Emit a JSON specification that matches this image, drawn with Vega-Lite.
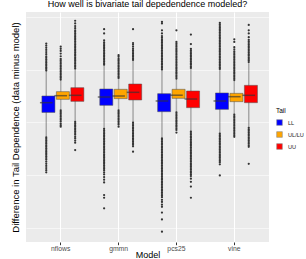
{
"$schema":"https://vega.github.io/schema/vega-lite/v6.json",
"autosize":{"type":"none"},
"padding":{"left":26,"top":12,"right":37,"bottom":17},
"width":243,"height":230,
"background":"white",
"title":{"text":"How well is bivariate tail depedendence modeled?","fontSize":9,"fontWeight":"normal","color":"black","anchor":"middle","frame":"group","offset":3,"font":"Liberation Sans"},
"datasets":{
"box":[
{"m":"nflows","t":"LL","lo":-0.077,"q1":-0.031,"med":-0.0126,"q3":0.0,"hi":0.046},
{"m":"nflows","t":"UL/LU","lo":-0.026,"q1":-0.0063,"med":0.0006,"q3":0.0082,"hi":0.030},
{"m":"nflows","t":"UU","lo":-0.048,"q1":-0.0101,"med":0.0013,"q3":0.0157,"hi":0.051},
{"m":"gmmn","t":"LL","lo":-0.061,"q1":-0.0176,"med":-0.0019,"q3":0.0132,"hi":0.058},
{"m":"gmmn","t":"UL/LU","lo":-0.026,"q1":-0.005,"med":0.0,"q3":0.0126,"hi":0.033},
{"m":"gmmn","t":"UU","lo":-0.049,"q1":-0.0075,"med":0.0069,"q3":0.0226,"hi":0.067},
{"m":"pcs25","t":"LL","lo":-0.079,"q1":-0.0296,"med":-0.0094,"q3":0.0044,"hi":0.049},
{"m":"pcs25","t":"UL/LU","lo":-0.030,"q1":-0.0044,"med":0.0015,"q3":0.0126,"hi":0.032},
{"m":"pcs25","t":"UU","lo":-0.066,"q1":-0.022,"med":-0.0057,"q3":0.0094,"hi":0.052},
{"m":"vine","t":"LL","lo":-0.070,"q1":-0.0252,"med":-0.0094,"q3":0.0057,"hi":0.050},
{"m":"vine","t":"UL/LU","lo":-0.034,"q1":-0.0107,"med":-0.0013,"q3":0.005,"hi":0.029},
{"m":"vine","t":"UU","lo":-0.059,"q1":-0.0126,"med":0.0013,"q3":0.0201,"hi":0.062}
],
"o":[
{"m":"nflows","t":"LL","v":0.048},{"m":"nflows","t":"LL","v":0.051},{"m":"nflows","t":"LL","v":0.054},{"m":"nflows","t":"LL","v":0.057},{"m":"nflows","t":"LL","v":0.060},{"m":"nflows","t":"LL","v":0.063},{"m":"nflows","t":"LL","v":0.066},{"m":"nflows","t":"LL","v":0.069},{"m":"nflows","t":"LL","v":0.072},{"m":"nflows","t":"LL","v":0.075},{"m":"nflows","t":"LL","v":0.079},{"m":"nflows","t":"LL","v":0.083},{"m":"nflows","t":"LL","v":0.087},{"m":"nflows","t":"LL","v":0.091},{"m":"nflows","t":"LL","v":0.095},{"m":"nflows","t":"LL","v":0.099},
{"m":"nflows","t":"LL","v":-0.078},{"m":"nflows","t":"LL","v":-0.081},{"m":"nflows","t":"LL","v":-0.084},{"m":"nflows","t":"LL","v":-0.087},{"m":"nflows","t":"LL","v":-0.090},{"m":"nflows","t":"LL","v":-0.093},{"m":"nflows","t":"LL","v":-0.096},{"m":"nflows","t":"LL","v":-0.099},{"m":"nflows","t":"LL","v":-0.102},{"m":"nflows","t":"LL","v":-0.105},{"m":"nflows","t":"LL","v":-0.108},{"m":"nflows","t":"LL","v":-0.111},{"m":"nflows","t":"LL","v":-0.114},{"m":"nflows","t":"LL","v":-0.117},{"m":"nflows","t":"LL","v":-0.120},{"m":"nflows","t":"LL","v":-0.124},{"m":"nflows","t":"LL","v":-0.128},{"m":"nflows","t":"LL","v":-0.132},{"m":"nflows","t":"LL","v":-0.136},{"m":"nflows","t":"LL","v":-0.140},{"m":"nflows","t":"LL","v":-0.144},
{"m":"nflows","t":"UL/LU","v":0.031},{"m":"nflows","t":"UL/LU","v":0.034},{"m":"nflows","t":"UL/LU","v":0.037},{"m":"nflows","t":"UL/LU","v":0.040},{"m":"nflows","t":"UL/LU","v":0.043},{"m":"nflows","t":"UL/LU","v":0.046},{"m":"nflows","t":"UL/LU","v":0.049},{"m":"nflows","t":"UL/LU","v":0.052},{"m":"nflows","t":"UL/LU","v":0.055},{"m":"nflows","t":"UL/LU","v":0.058},{"m":"nflows","t":"UL/LU","v":0.061},{"m":"nflows","t":"UL/LU","v":0.064},{"m":"nflows","t":"UL/LU","v":0.067},{"m":"nflows","t":"UL/LU","v":0.070},{"m":"nflows","t":"UL/LU","v":0.075},{"m":"nflows","t":"UL/LU","v":0.080},{"m":"nflows","t":"UL/LU","v":0.085},{"m":"nflows","t":"UL/LU","v":0.089},{"m":"nflows","t":"UL/LU","v":0.093},
{"m":"nflows","t":"UL/LU","v":-0.027},{"m":"nflows","t":"UL/LU","v":-0.030},{"m":"nflows","t":"UL/LU","v":-0.033},{"m":"nflows","t":"UL/LU","v":-0.036},{"m":"nflows","t":"UL/LU","v":-0.039},{"m":"nflows","t":"UL/LU","v":-0.042},{"m":"nflows","t":"UL/LU","v":-0.045},{"m":"nflows","t":"UL/LU","v":-0.048},{"m":"nflows","t":"UL/LU","v":-0.052},{"m":"nflows","t":"UL/LU","v":-0.055},{"m":"nflows","t":"UL/LU","v":-0.058},
{"m":"nflows","t":"UU","v":0.052},{"m":"nflows","t":"UU","v":0.055},{"m":"nflows","t":"UU","v":0.058},{"m":"nflows","t":"UU","v":0.061},{"m":"nflows","t":"UU","v":0.064},{"m":"nflows","t":"UU","v":0.067},{"m":"nflows","t":"UU","v":0.070},{"m":"nflows","t":"UU","v":0.073},{"m":"nflows","t":"UU","v":0.076},{"m":"nflows","t":"UU","v":0.079},{"m":"nflows","t":"UU","v":0.082},{"m":"nflows","t":"UU","v":0.085},{"m":"nflows","t":"UU","v":0.088},{"m":"nflows","t":"UU","v":0.091},{"m":"nflows","t":"UU","v":0.094},{"m":"nflows","t":"UU","v":0.097},{"m":"nflows","t":"UU","v":0.100},{"m":"nflows","t":"UU","v":0.103},{"m":"nflows","t":"UU","v":0.106},{"m":"nflows","t":"UU","v":0.109},{"m":"nflows","t":"UU","v":0.112},{"m":"nflows","t":"UU","v":0.115},{"m":"nflows","t":"UU","v":0.118},{"m":"nflows","t":"UU","v":0.121},{"m":"nflows","t":"UU","v":0.124},{"m":"nflows","t":"UU","v":0.128},{"m":"nflows","t":"UU","v":0.132},{"m":"nflows","t":"UU","v":0.137},{"m":"nflows","t":"UU","v":0.142},
{"m":"nflows","t":"UU","v":-0.049},{"m":"nflows","t":"UU","v":-0.052},{"m":"nflows","t":"UU","v":-0.055},{"m":"nflows","t":"UU","v":-0.058},{"m":"nflows","t":"UU","v":-0.061},{"m":"nflows","t":"UU","v":-0.064},{"m":"nflows","t":"UU","v":-0.067},{"m":"nflows","t":"UU","v":-0.070},{"m":"nflows","t":"UU","v":-0.073},{"m":"nflows","t":"UU","v":-0.077},{"m":"nflows","t":"UU","v":-0.080},{"m":"nflows","t":"UU","v":-0.084},{"m":"nflows","t":"UU","v":-0.088},{"m":"nflows","t":"UU","v":-0.102},
{"m":"gmmn","t":"LL","v":0.059},{"m":"gmmn","t":"LL","v":0.062},{"m":"gmmn","t":"LL","v":0.065},{"m":"gmmn","t":"LL","v":0.068},{"m":"gmmn","t":"LL","v":0.071},{"m":"gmmn","t":"LL","v":0.074},{"m":"gmmn","t":"LL","v":0.077},{"m":"gmmn","t":"LL","v":0.080},{"m":"gmmn","t":"LL","v":0.083},{"m":"gmmn","t":"LL","v":0.086},{"m":"gmmn","t":"LL","v":0.089},{"m":"gmmn","t":"LL","v":0.092},{"m":"gmmn","t":"LL","v":0.095},{"m":"gmmn","t":"LL","v":0.098},{"m":"gmmn","t":"LL","v":0.101},{"m":"gmmn","t":"LL","v":0.105},{"m":"gmmn","t":"LL","v":0.118},{"m":"gmmn","t":"LL","v":0.126},
{"m":"gmmn","t":"LL","v":-0.062},{"m":"gmmn","t":"LL","v":-0.065},{"m":"gmmn","t":"LL","v":-0.068},{"m":"gmmn","t":"LL","v":-0.071},{"m":"gmmn","t":"LL","v":-0.074},{"m":"gmmn","t":"LL","v":-0.077},{"m":"gmmn","t":"LL","v":-0.080},{"m":"gmmn","t":"LL","v":-0.083},{"m":"gmmn","t":"LL","v":-0.086},{"m":"gmmn","t":"LL","v":-0.089},{"m":"gmmn","t":"LL","v":-0.092},{"m":"gmmn","t":"LL","v":-0.095},{"m":"gmmn","t":"LL","v":-0.098},{"m":"gmmn","t":"LL","v":-0.101},{"m":"gmmn","t":"LL","v":-0.104},{"m":"gmmn","t":"LL","v":-0.107},{"m":"gmmn","t":"LL","v":-0.110},{"m":"gmmn","t":"LL","v":-0.113},{"m":"gmmn","t":"LL","v":-0.116},{"m":"gmmn","t":"LL","v":-0.119},{"m":"gmmn","t":"LL","v":-0.122},{"m":"gmmn","t":"LL","v":-0.125},{"m":"gmmn","t":"LL","v":-0.128},{"m":"gmmn","t":"LL","v":-0.131},{"m":"gmmn","t":"LL","v":-0.134},{"m":"gmmn","t":"LL","v":-0.137},{"m":"gmmn","t":"LL","v":-0.140},{"m":"gmmn","t":"LL","v":-0.144},{"m":"gmmn","t":"LL","v":-0.148},{"m":"gmmn","t":"LL","v":-0.153},{"m":"gmmn","t":"LL","v":-0.158},{"m":"gmmn","t":"LL","v":-0.163},{"m":"gmmn","t":"LL","v":-0.187},{"m":"gmmn","t":"LL","v":-0.192},{"m":"gmmn","t":"LL","v":-0.212},
{"m":"gmmn","t":"UL/LU","v":0.034},{"m":"gmmn","t":"UL/LU","v":0.037},{"m":"gmmn","t":"UL/LU","v":0.040},{"m":"gmmn","t":"UL/LU","v":0.043},{"m":"gmmn","t":"UL/LU","v":0.046},{"m":"gmmn","t":"UL/LU","v":0.049},{"m":"gmmn","t":"UL/LU","v":0.052},{"m":"gmmn","t":"UL/LU","v":0.055},{"m":"gmmn","t":"UL/LU","v":0.058},{"m":"gmmn","t":"UL/LU","v":0.061},{"m":"gmmn","t":"UL/LU","v":0.064},{"m":"gmmn","t":"UL/LU","v":0.067},{"m":"gmmn","t":"UL/LU","v":0.070},{"m":"gmmn","t":"UL/LU","v":0.074},{"m":"gmmn","t":"UL/LU","v":0.077},
{"m":"gmmn","t":"UL/LU","v":-0.027},{"m":"gmmn","t":"UL/LU","v":-0.030},{"m":"gmmn","t":"UL/LU","v":-0.033},{"m":"gmmn","t":"UL/LU","v":-0.036},{"m":"gmmn","t":"UL/LU","v":-0.039},{"m":"gmmn","t":"UL/LU","v":-0.042},{"m":"gmmn","t":"UL/LU","v":-0.045},{"m":"gmmn","t":"UL/LU","v":-0.048},{"m":"gmmn","t":"UL/LU","v":-0.051},{"m":"gmmn","t":"UL/LU","v":-0.054},{"m":"gmmn","t":"UL/LU","v":-0.058},
{"m":"gmmn","t":"UU","v":0.068},{"m":"gmmn","t":"UU","v":0.071},{"m":"gmmn","t":"UU","v":0.074},{"m":"gmmn","t":"UU","v":0.077},{"m":"gmmn","t":"UU","v":0.080},{"m":"gmmn","t":"UU","v":0.083},{"m":"gmmn","t":"UU","v":0.086},{"m":"gmmn","t":"UU","v":0.089},{"m":"gmmn","t":"UU","v":0.093},{"m":"gmmn","t":"UU","v":0.097},{"m":"gmmn","t":"UU","v":0.100},{"m":"gmmn","t":"UU","v":0.126},
{"m":"gmmn","t":"UU","v":-0.050},{"m":"gmmn","t":"UU","v":-0.053},{"m":"gmmn","t":"UU","v":-0.056},{"m":"gmmn","t":"UU","v":-0.059},{"m":"gmmn","t":"UU","v":-0.062},{"m":"gmmn","t":"UU","v":-0.065},{"m":"gmmn","t":"UU","v":-0.068},{"m":"gmmn","t":"UU","v":-0.071},{"m":"gmmn","t":"UU","v":-0.074},{"m":"gmmn","t":"UU","v":-0.077},{"m":"gmmn","t":"UU","v":-0.080},{"m":"gmmn","t":"UU","v":-0.083},{"m":"gmmn","t":"UU","v":-0.086},{"m":"gmmn","t":"UU","v":-0.089},{"m":"gmmn","t":"UU","v":-0.092},{"m":"gmmn","t":"UU","v":-0.095},{"m":"gmmn","t":"UU","v":-0.105},
{"m":"pcs25","t":"LL","v":0.050},{"m":"pcs25","t":"LL","v":0.053},{"m":"pcs25","t":"LL","v":0.056},{"m":"pcs25","t":"LL","v":0.059},{"m":"pcs25","t":"LL","v":0.062},{"m":"pcs25","t":"LL","v":0.065},{"m":"pcs25","t":"LL","v":0.068},{"m":"pcs25","t":"LL","v":0.071},{"m":"pcs25","t":"LL","v":0.074},{"m":"pcs25","t":"LL","v":0.077},{"m":"pcs25","t":"LL","v":0.080},{"m":"pcs25","t":"LL","v":0.083},{"m":"pcs25","t":"LL","v":0.086},{"m":"pcs25","t":"LL","v":0.089},{"m":"pcs25","t":"LL","v":0.092},{"m":"pcs25","t":"LL","v":0.095},{"m":"pcs25","t":"LL","v":0.098},{"m":"pcs25","t":"LL","v":0.101},{"m":"pcs25","t":"LL","v":0.104},{"m":"pcs25","t":"LL","v":0.107},{"m":"pcs25","t":"LL","v":0.110},{"m":"pcs25","t":"LL","v":0.113},{"m":"pcs25","t":"LL","v":0.118},{"m":"pcs25","t":"LL","v":0.124},{"m":"pcs25","t":"LL","v":0.137},{"m":"pcs25","t":"LL","v":0.140},
{"m":"pcs25","t":"LL","v":-0.080},{"m":"pcs25","t":"LL","v":-0.083},{"m":"pcs25","t":"LL","v":-0.086},{"m":"pcs25","t":"LL","v":-0.089},{"m":"pcs25","t":"LL","v":-0.092},{"m":"pcs25","t":"LL","v":-0.095},{"m":"pcs25","t":"LL","v":-0.098},{"m":"pcs25","t":"LL","v":-0.101},{"m":"pcs25","t":"LL","v":-0.104},{"m":"pcs25","t":"LL","v":-0.107},{"m":"pcs25","t":"LL","v":-0.110},{"m":"pcs25","t":"LL","v":-0.113},{"m":"pcs25","t":"LL","v":-0.116},{"m":"pcs25","t":"LL","v":-0.119},{"m":"pcs25","t":"LL","v":-0.122},{"m":"pcs25","t":"LL","v":-0.125},{"m":"pcs25","t":"LL","v":-0.128},{"m":"pcs25","t":"LL","v":-0.131},{"m":"pcs25","t":"LL","v":-0.134},{"m":"pcs25","t":"LL","v":-0.137},{"m":"pcs25","t":"LL","v":-0.140},{"m":"pcs25","t":"LL","v":-0.143},{"m":"pcs25","t":"LL","v":-0.146},{"m":"pcs25","t":"LL","v":-0.149},{"m":"pcs25","t":"LL","v":-0.152},{"m":"pcs25","t":"LL","v":-0.155},{"m":"pcs25","t":"LL","v":-0.158},{"m":"pcs25","t":"LL","v":-0.161},{"m":"pcs25","t":"LL","v":-0.164},{"m":"pcs25","t":"LL","v":-0.167},{"m":"pcs25","t":"LL","v":-0.170},{"m":"pcs25","t":"LL","v":-0.173},{"m":"pcs25","t":"LL","v":-0.176},{"m":"pcs25","t":"LL","v":-0.179},{"m":"pcs25","t":"LL","v":-0.182},{"m":"pcs25","t":"LL","v":-0.185},{"m":"pcs25","t":"LL","v":-0.188},{"m":"pcs25","t":"LL","v":-0.191},{"m":"pcs25","t":"LL","v":-0.196},{"m":"pcs25","t":"LL","v":-0.200},{"m":"pcs25","t":"LL","v":-0.205},{"m":"pcs25","t":"LL","v":-0.209},{"m":"pcs25","t":"LL","v":-0.220},{"m":"pcs25","t":"LL","v":-0.233},{"m":"pcs25","t":"LL","v":-0.256},
{"m":"pcs25","t":"UL/LU","v":0.033},{"m":"pcs25","t":"UL/LU","v":0.036},{"m":"pcs25","t":"UL/LU","v":0.039},{"m":"pcs25","t":"UL/LU","v":0.042},{"m":"pcs25","t":"UL/LU","v":0.045},{"m":"pcs25","t":"UL/LU","v":0.048},{"m":"pcs25","t":"UL/LU","v":0.051},{"m":"pcs25","t":"UL/LU","v":0.054},{"m":"pcs25","t":"UL/LU","v":0.057},{"m":"pcs25","t":"UL/LU","v":0.060},{"m":"pcs25","t":"UL/LU","v":0.063},{"m":"pcs25","t":"UL/LU","v":0.066},{"m":"pcs25","t":"UL/LU","v":0.069},{"m":"pcs25","t":"UL/LU","v":0.072},{"m":"pcs25","t":"UL/LU","v":0.075},{"m":"pcs25","t":"UL/LU","v":0.078},{"m":"pcs25","t":"UL/LU","v":0.081},{"m":"pcs25","t":"UL/LU","v":0.084},{"m":"pcs25","t":"UL/LU","v":0.087},{"m":"pcs25","t":"UL/LU","v":0.090},{"m":"pcs25","t":"UL/LU","v":0.093},{"m":"pcs25","t":"UL/LU","v":0.096},{"m":"pcs25","t":"UL/LU","v":0.099},{"m":"pcs25","t":"UL/LU","v":0.102},{"m":"pcs25","t":"UL/LU","v":0.124},
{"m":"pcs25","t":"UL/LU","v":-0.031},{"m":"pcs25","t":"UL/LU","v":-0.034},{"m":"pcs25","t":"UL/LU","v":-0.037},{"m":"pcs25","t":"UL/LU","v":-0.040},{"m":"pcs25","t":"UL/LU","v":-0.043},{"m":"pcs25","t":"UL/LU","v":-0.046},{"m":"pcs25","t":"UL/LU","v":-0.049},{"m":"pcs25","t":"UL/LU","v":-0.052},{"m":"pcs25","t":"UL/LU","v":-0.055},{"m":"pcs25","t":"UL/LU","v":-0.058},{"m":"pcs25","t":"UL/LU","v":-0.061},{"m":"pcs25","t":"UL/LU","v":-0.064},{"m":"pcs25","t":"UL/LU","v":-0.069},
{"m":"pcs25","t":"UU","v":0.053},{"m":"pcs25","t":"UU","v":0.056},{"m":"pcs25","t":"UU","v":0.059},{"m":"pcs25","t":"UU","v":0.062},{"m":"pcs25","t":"UU","v":0.065},{"m":"pcs25","t":"UU","v":0.068},{"m":"pcs25","t":"UU","v":0.071},{"m":"pcs25","t":"UU","v":0.074},{"m":"pcs25","t":"UU","v":0.077},{"m":"pcs25","t":"UU","v":0.080},{"m":"pcs25","t":"UU","v":0.083},{"m":"pcs25","t":"UU","v":0.086},{"m":"pcs25","t":"UU","v":0.089},{"m":"pcs25","t":"UU","v":0.098},{"m":"pcs25","t":"UU","v":0.116},
{"m":"pcs25","t":"UU","v":-0.067},{"m":"pcs25","t":"UU","v":-0.070},{"m":"pcs25","t":"UU","v":-0.073},{"m":"pcs25","t":"UU","v":-0.076},{"m":"pcs25","t":"UU","v":-0.079},{"m":"pcs25","t":"UU","v":-0.082},{"m":"pcs25","t":"UU","v":-0.085},{"m":"pcs25","t":"UU","v":-0.088},{"m":"pcs25","t":"UU","v":-0.091},{"m":"pcs25","t":"UU","v":-0.094},{"m":"pcs25","t":"UU","v":-0.097},{"m":"pcs25","t":"UU","v":-0.100},{"m":"pcs25","t":"UU","v":-0.103},{"m":"pcs25","t":"UU","v":-0.106},{"m":"pcs25","t":"UU","v":-0.109},{"m":"pcs25","t":"UU","v":-0.112},{"m":"pcs25","t":"UU","v":-0.115},{"m":"pcs25","t":"UU","v":-0.118},{"m":"pcs25","t":"UU","v":-0.121},{"m":"pcs25","t":"UU","v":-0.124},{"m":"pcs25","t":"UU","v":-0.127},{"m":"pcs25","t":"UU","v":-0.130},{"m":"pcs25","t":"UU","v":-0.133},{"m":"pcs25","t":"UU","v":-0.136},{"m":"pcs25","t":"UU","v":-0.139},{"m":"pcs25","t":"UU","v":-0.142},{"m":"pcs25","t":"UU","v":-0.145},{"m":"pcs25","t":"UU","v":-0.148},{"m":"pcs25","t":"UU","v":-0.151},{"m":"pcs25","t":"UU","v":-0.156},{"m":"pcs25","t":"UU","v":-0.162},{"m":"pcs25","t":"UU","v":-0.171},{"m":"pcs25","t":"UU","v":-0.192},
{"m":"vine","t":"LL","v":0.051},{"m":"vine","t":"LL","v":0.054},{"m":"vine","t":"LL","v":0.057},{"m":"vine","t":"LL","v":0.060},{"m":"vine","t":"LL","v":0.063},{"m":"vine","t":"LL","v":0.066},{"m":"vine","t":"LL","v":0.069},{"m":"vine","t":"LL","v":0.072},{"m":"vine","t":"LL","v":0.075},{"m":"vine","t":"LL","v":0.078},{"m":"vine","t":"LL","v":0.081},{"m":"vine","t":"LL","v":0.084},{"m":"vine","t":"LL","v":0.087},{"m":"vine","t":"LL","v":0.090},{"m":"vine","t":"LL","v":0.093},{"m":"vine","t":"LL","v":0.096},{"m":"vine","t":"LL","v":0.099},{"m":"vine","t":"LL","v":0.102},{"m":"vine","t":"LL","v":0.105},{"m":"vine","t":"LL","v":0.108},{"m":"vine","t":"LL","v":0.111},{"m":"vine","t":"LL","v":0.114},{"m":"vine","t":"LL","v":0.117},{"m":"vine","t":"LL","v":0.120},{"m":"vine","t":"LL","v":0.123},{"m":"vine","t":"LL","v":0.126},{"m":"vine","t":"LL","v":0.129},{"m":"vine","t":"LL","v":0.132},{"m":"vine","t":"LL","v":0.135},{"m":"vine","t":"LL","v":0.138},
{"m":"vine","t":"LL","v":-0.071},{"m":"vine","t":"LL","v":-0.074},{"m":"vine","t":"LL","v":-0.077},{"m":"vine","t":"LL","v":-0.080},{"m":"vine","t":"LL","v":-0.083},{"m":"vine","t":"LL","v":-0.086},{"m":"vine","t":"LL","v":-0.089},{"m":"vine","t":"LL","v":-0.092},{"m":"vine","t":"LL","v":-0.095},{"m":"vine","t":"LL","v":-0.098},{"m":"vine","t":"LL","v":-0.101},{"m":"vine","t":"LL","v":-0.104},{"m":"vine","t":"LL","v":-0.107},{"m":"vine","t":"LL","v":-0.110},{"m":"vine","t":"LL","v":-0.113},{"m":"vine","t":"LL","v":-0.116},{"m":"vine","t":"LL","v":-0.119},{"m":"vine","t":"LL","v":-0.122},{"m":"vine","t":"LL","v":-0.125},{"m":"vine","t":"LL","v":-0.129},{"m":"vine","t":"LL","v":-0.150},
{"m":"vine","t":"UL/LU","v":0.030},{"m":"vine","t":"UL/LU","v":0.033},{"m":"vine","t":"UL/LU","v":0.036},{"m":"vine","t":"UL/LU","v":0.039},{"m":"vine","t":"UL/LU","v":0.042},{"m":"vine","t":"UL/LU","v":0.045},{"m":"vine","t":"UL/LU","v":0.048},{"m":"vine","t":"UL/LU","v":0.051},{"m":"vine","t":"UL/LU","v":0.054},{"m":"vine","t":"UL/LU","v":0.057},{"m":"vine","t":"UL/LU","v":0.060},{"m":"vine","t":"UL/LU","v":0.063},{"m":"vine","t":"UL/LU","v":0.066},{"m":"vine","t":"UL/LU","v":0.069},{"m":"vine","t":"UL/LU","v":0.072},{"m":"vine","t":"UL/LU","v":0.075},{"m":"vine","t":"UL/LU","v":0.078},{"m":"vine","t":"UL/LU","v":0.081},{"m":"vine","t":"UL/LU","v":0.084},{"m":"vine","t":"UL/LU","v":0.088},{"m":"vine","t":"UL/LU","v":0.092},{"m":"vine","t":"UL/LU","v":0.102},{"m":"vine","t":"UL/LU","v":0.107},
{"m":"vine","t":"UL/LU","v":-0.035},{"m":"vine","t":"UL/LU","v":-0.038},{"m":"vine","t":"UL/LU","v":-0.041},{"m":"vine","t":"UL/LU","v":-0.044},{"m":"vine","t":"UL/LU","v":-0.047},{"m":"vine","t":"UL/LU","v":-0.050},{"m":"vine","t":"UL/LU","v":-0.053},{"m":"vine","t":"UL/LU","v":-0.056},{"m":"vine","t":"UL/LU","v":-0.059},{"m":"vine","t":"UL/LU","v":-0.062},{"m":"vine","t":"UL/LU","v":-0.065},{"m":"vine","t":"UL/LU","v":-0.068},{"m":"vine","t":"UL/LU","v":-0.071},{"m":"vine","t":"UL/LU","v":-0.074},{"m":"vine","t":"UL/LU","v":-0.077},
{"m":"vine","t":"UU","v":0.064},{"m":"vine","t":"UU","v":0.067},{"m":"vine","t":"UU","v":0.070},{"m":"vine","t":"UU","v":0.073},{"m":"vine","t":"UU","v":0.076},{"m":"vine","t":"UU","v":0.079},{"m":"vine","t":"UU","v":0.082},{"m":"vine","t":"UU","v":0.085},{"m":"vine","t":"UU","v":0.088},{"m":"vine","t":"UU","v":0.091},{"m":"vine","t":"UU","v":0.094},{"m":"vine","t":"UU","v":0.097},{"m":"vine","t":"UU","v":0.100},{"m":"vine","t":"UU","v":0.103},{"m":"vine","t":"UU","v":0.106},{"m":"vine","t":"UU","v":0.111},{"m":"vine","t":"UU","v":0.118},{"m":"vine","t":"UU","v":0.124},{"m":"vine","t":"UU","v":0.134},
{"m":"vine","t":"UU","v":-0.060},{"m":"vine","t":"UU","v":-0.063},{"m":"vine","t":"UU","v":-0.066},{"m":"vine","t":"UU","v":-0.069},{"m":"vine","t":"UU","v":-0.072},{"m":"vine","t":"UU","v":-0.075},{"m":"vine","t":"UU","v":-0.078},{"m":"vine","t":"UU","v":-0.081},{"m":"vine","t":"UU","v":-0.084},{"m":"vine","t":"UU","v":-0.087},{"m":"vine","t":"UU","v":-0.090},{"m":"vine","t":"UU","v":-0.093},{"m":"vine","t":"UU","v":-0.096},{"m":"vine","t":"UU","v":-0.128}
]
},
"encoding":{
"x":{"field":"m","type":"nominal","sort":["nflows","gmmn","pcs25","vine"],"scale":{"paddingInner":0,"paddingOuter":0.1},"axis":{"title":"Model","labelAngle":0,"grid":true,"gridColor":"white","gridWidth":1.1,"bandPosition":0.5,"labelPadding":1,"titlePadding":-2,"titleFontSize":9,"labelFontSize":6.8}},
"xOffset":{"field":"t","type":"nominal","sort":["LL","UL/LU","UU"],"scale":{"paddingInner":0,"paddingOuter":0.5}}
},
"layer":[
{"data":{"name":"box"},"mark":{"type":"rule","color":"#4D4D4D","opacity":0.45,"strokeWidth":1.4},
 "encoding":{"y":{"field":"lo","type":"quantitative","title":"Difference in Tail Dependence (data minus model)","scale":{"domain":[-0.2755,0.1585],"nice":false,"zero":false},
  "axis":{"values":[-0.25,-0.2,-0.15,-0.1,-0.05,0,0.05,0.1,0.15],"labelExpr":"abs(round(datum.value*20))%2==1 ? '' : replace(format(datum.value,'.1f'),'\u2212','-')","gridColor":"white","gridWidth":{"condition":{"test":"abs(round(datum.value*20))%2==1","value":0.55},"value":1.1},"tickOpacity":{"condition":{"test":"abs(round(datum.value*20))%2==1","value":0},"value":1},"titlePadding":1.5,"labelPadding":1.5,"titleFontSize":9.5,"labelFontSize":6.8}},
  "y2":{"field":"hi"}}},
{"data":{"name":"box"},"mark":{"type":"bar","stroke":"#4D4D4D","strokeOpacity":0.5,"strokeWidth":1,"width":{"band":0.9}},
 "encoding":{"y":{"field":"q1","type":"quantitative","title":"Difference in Tail Dependence (data minus model)"},"y2":{"field":"q3"},
  "fill":{"field":"t","type":"nominal","scale":{"domain":["LL","UL/LU","UU"],"range":["#0000FF","#FFA500","#FF0000"]},
   "legend":{"orient":"none","legendX":250,"legendY":95.5,"title":"Tail","titleFontSize":6.5,"titleFontWeight":"normal","titleColor":"black","titlePadding":5,"labelFontSize":5.6,"labelColor":"#1A1A1A","symbolType":"square","symbolSize":32,"symbolStrokeColor":"#8C8C8C","symbolStrokeWidth":0.6,"symbolOpacity":1,"rowPadding":3,"padding":0,"labelOffset":5}}}},
{"data":{"name":"box"},"mark":{"type":"point","shape":"M-1,0L1,0","size":160,"filled":false,"stroke":"#333333","strokeOpacity":0.65,"strokeWidth":1.5,"opacity":1},
 "encoding":{"y":{"field":"med","type":"quantitative","title":"Difference in Tail Dependence (data minus model)"}}},
{"data":{"name":"o"},"mark":{"type":"circle","color":"#333333","opacity":1,"size":5},
 "encoding":{"y":{"field":"v","type":"quantitative","title":"Difference in Tail Dependence (data minus model)"}}}
],
"config":{
"font":"Liberation Sans",
"view":{"fill":"#EBEBEB","stroke":null},
"axis":{"domain":false,"tickColor":"#333333","tickSize":2.7,"labelColor":"#4D4D4D","titleFontWeight":"normal","titleColor":"black","labelFont":"Liberation Sans","titleFont":"Liberation Sans"},
"legend":{"labelFont":"Liberation Sans","titleFont":"Liberation Sans"}
}
}
